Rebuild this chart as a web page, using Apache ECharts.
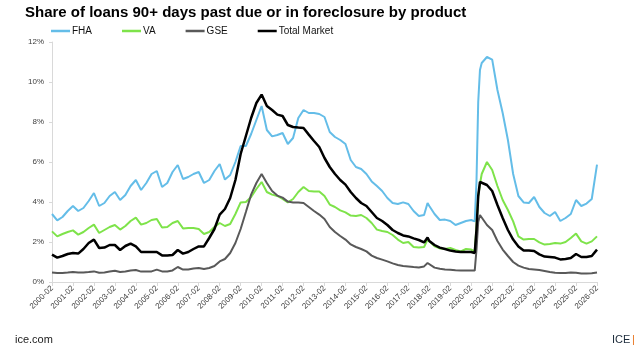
<!DOCTYPE html>
<html>
<head>
<meta charset="utf-8">
<script src="https://cdn.jsdelivr.net/npm/echarts@6/dist/echarts.min.js"></script>
<style>
html,body{margin:0;padding:0;background:#fff;}
#chart{width:640px;height:355px;}
</style>
</head>
<body>
<div id="chart"></div>
<script>
const sampleMonths = [
  '2000-02','2000-05','2000-08','2000-11',
  '2001-02','2001-05','2001-08','2001-11',
  '2002-02','2002-05','2002-08','2002-11',
  '2003-02','2003-05','2003-08','2003-11',
  '2004-02','2004-05','2004-08','2004-11',
  '2005-02','2005-05','2005-08','2005-11',
  '2006-02','2006-05','2006-08','2006-11',
  '2007-02','2007-05','2007-08','2007-11',
  '2008-02','2008-05','2008-08','2008-11',
  '2009-02','2009-05','2009-08','2009-11',
  '2010-02','2010-05','2010-08','2010-11',
  '2011-02','2011-05','2011-08','2011-11',
  '2012-02','2012-05','2012-08','2012-11',
  '2013-02','2013-05','2013-08','2013-11',
  '2014-02','2014-05','2014-08','2014-11',
  '2015-02','2015-05','2015-08','2015-11',
  '2016-02','2016-05','2016-08','2016-11',
  '2017-02','2017-05','2017-08','2017-11',
  '2018-01','2018-02','2018-05','2018-08','2018-11',
  '2019-02','2019-05','2019-08','2019-11',
  '2020-02','2020-04','2020-05','2020-06','2020-07','2020-08','2020-11',
  '2021-02','2021-05','2021-08','2021-11',
  '2022-02','2022-05','2022-08','2022-11',
  '2023-02','2023-05','2023-08','2023-11',
  '2024-02','2024-05','2024-08','2024-11',
  '2025-02','2025-05','2025-08','2025-11',
  '2026-02'
];

const fha = [
  3.40,3.08,3.25,3.55,
  3.80,3.55,3.70,4.05,
  4.45,3.80,3.95,4.30,
  4.50,4.10,4.35,4.80,
  5.10,4.60,4.95,5.40,
  5.55,4.75,4.95,5.50,
  5.85,5.15,5.25,5.40,
  5.50,4.95,5.10,5.55,
  5.90,5.12,5.35,6.00,
  6.80,6.80,7.40,8.10,
  8.80,7.60,7.28,7.35,
  7.45,6.90,7.20,8.20,
  8.60,8.45,8.45,8.40,
  8.25,7.50,7.25,7.10,
  6.90,6.10,5.75,5.65,
  5.40,5.03,4.80,4.55,
  4.20,3.95,3.90,3.98,
  3.90,3.55,3.30,3.35,
  3.95,3.80,3.40,3.10,3.12,
  3.05,2.85,2.95,3.05,
  3.10,3.03,5.00,9.00,10.60,10.95,11.25,
  11.12,9.60,8.45,7.10,
  5.40,4.30,3.98,3.95,
  4.25,3.75,3.45,3.30,
  3.50,3.05,3.20,3.40,
  4.10,3.80,3.92,4.15,
  5.87
];

const va = [
  2.53,2.28,2.40,2.50,
  2.58,2.37,2.50,2.70,
  2.87,2.45,2.60,2.75,
  2.85,2.62,2.80,3.05,
  3.22,2.87,2.95,3.10,
  3.15,2.72,2.75,2.95,
  3.05,2.68,2.70,2.70,
  2.65,2.40,2.50,2.75,
  2.95,2.80,2.90,3.40,
  3.98,4.00,4.25,4.65,
  5.00,4.50,4.37,4.30,
  4.15,3.98,4.15,4.50,
  4.75,4.55,4.53,4.53,
  4.30,3.87,3.75,3.58,
  3.48,3.32,3.30,3.35,
  3.20,2.95,2.62,2.55,
  2.50,2.35,2.12,1.95,
  2.00,1.75,1.72,1.75,
  2.12,2.05,1.78,1.68,1.65,
  1.70,1.60,1.53,1.65,
  1.62,1.53,2.80,4.30,4.90,5.40,6.00,
  5.60,4.80,4.10,3.60,
  3.03,2.28,2.12,2.15,
  2.15,1.98,1.87,1.90,
  1.95,1.92,2.00,2.20,
  2.42,2.03,1.92,2.03,
  2.28
];

const gse = [
  0.48,0.45,0.45,0.47,
  0.50,0.47,0.48,0.50,
  0.53,0.46,0.48,0.52,
  0.56,0.50,0.52,0.57,
  0.60,0.52,0.52,0.53,
  0.62,0.53,0.53,0.58,
  0.75,0.62,0.63,0.68,
  0.70,0.65,0.70,0.80,
  1.03,1.15,1.45,1.95,
  2.65,3.50,4.37,4.95,
  5.40,4.95,4.55,4.32,
  4.22,4.02,3.98,3.98,
  3.95,3.75,3.55,3.37,
  3.15,2.75,2.50,2.30,
  2.12,1.88,1.75,1.65,
  1.53,1.32,1.20,1.12,
  1.03,0.93,0.85,0.80,
  0.78,0.75,0.73,0.78,
  0.95,0.90,0.72,0.66,0.63,
  0.61,0.59,0.58,0.58,
  0.58,0.57,1.60,3.00,3.35,3.25,2.85,
  2.60,2.05,1.62,1.30,
  1.00,0.82,0.72,0.65,
  0.63,0.60,0.55,0.50,
  0.46,0.45,0.45,0.48,
  0.46,0.42,0.42,0.44,
  0.48
];

const totalMarket = [
  1.37,1.22,1.30,1.40,
  1.45,1.42,1.65,1.95,
  2.12,1.70,1.72,1.85,
  1.85,1.60,1.80,1.92,
  1.78,1.50,1.50,1.50,
  1.50,1.33,1.33,1.35,
  1.60,1.42,1.50,1.65,
  1.78,1.78,2.20,2.65,
  3.37,3.65,4.20,5.10,
  6.40,7.30,8.20,8.95,
  9.37,8.80,8.60,8.37,
  8.30,7.85,7.75,7.72,
  7.70,7.37,7.05,6.75,
  6.20,5.75,5.40,5.10,
  4.87,4.50,4.20,3.95,
  3.80,3.50,3.20,3.05,
  2.85,2.60,2.45,2.33,
  2.28,2.18,2.10,1.98,
  2.22,2.05,1.85,1.72,1.65,
  1.57,1.53,1.50,1.50,
  1.50,1.45,2.60,4.30,5.00,5.05,4.85,
  4.55,3.85,3.20,2.60,
  2.12,1.78,1.58,1.58,
  1.55,1.38,1.27,1.25,
  1.22,1.13,1.15,1.20,
  1.40,1.25,1.25,1.30,
  1.62
];

const seriesNames = ['FHA', 'VA', 'GSE', 'Total Market'];
const seriesValues = [fha, va, gse, totalMarket];
const seriesColors = ['#64BDE8', '#7EE34A', '#595959', '#000000'];
const seriesWidths = [2, 2, 2, 2.5];

// Monthly category axis 2000-02 .. 2026-02
const categories = [];
for (let y = 2000, m = 2; y < 2026 || (y === 2026 && m <= 2); ) {
  categories.push(y + '-' + (m < 10 ? '0' + m : m));
  m++; if (m > 12) { m = 1; y++; }
}

const yTicks = [0, 2, 4, 6, 8, 10, 12];

const chart = echarts.init(document.getElementById('chart'), null, {renderer: 'canvas'});
chart.setOption({
  animation: false,
  backgroundColor: '#ffffff',
  title: {
    text: 'Share of loans 90+ days past due or in foreclosure by product',
    left: 25, top: 5, padding: 0,
    textStyle: {fontFamily: 'Liberation Sans, Arial, sans-serif', fontSize: 15, fontWeight: 'bold', color: '#000'}
  },
  legend: {
    left: 51, top: 26, padding: 0,
    itemWidth: 19, itemHeight: 2.5, itemGap: 30,
    icon: 'rect',
    textStyle: {fontFamily: 'Liberation Sans, Arial, sans-serif', fontSize: 10, color: '#111', padding: [0, 0, 0, -3]},
    data: seriesNames
  },
  grid: {left: 52, right: 43, top: 42, bottom: 73, containLabel: false},
  xAxis: {
    type: 'category',
    data: categories,
    boundaryGap: false,
    axisLine: {lineStyle: {color: '#d9d9d9', width: 1}},
    axisTick: {show: true, interval: 11, length: 4, lineStyle: {color: '#d9d9d9'}},
    axisLabel: {
      interval: 11, rotate: 45, fontSize: 8, margin: 5,
      fontFamily: 'Liberation Sans, Arial, sans-serif', color: '#404040'
    },
    splitLine: {show: false}
  },
  yAxis: {
    type: 'value',
    min: yTicks[0], max: yTicks[yTicks.length - 1], interval: 2,
    axisLine: {show: true, lineStyle: {color: '#d9d9d9', width: 1}},
    axisTick: {show: true, length: 3, lineStyle: {color: '#d9d9d9'}},
    axisLabel: {
      formatter: '{value}%', fontSize: 8, margin: 8,
      fontFamily: 'Liberation Sans, Arial, sans-serif', color: '#404040'
    },
    splitLine: {show: false}
  },
  series: seriesNames.map((name, k) => ({
    name: name,
    type: 'line',
    symbol: 'none',
    smooth: false,
    color: seriesColors[k],
    lineStyle: {color: seriesColors[k], width: seriesWidths[k]},
    data: sampleMonths.map((m, i) => [m, seriesValues[k][i]])
  })),
  graphic: [
    {type: 'text', left: 15, top: 334,
     style: {text: 'ice.com', fontSize: 11, fontFamily: 'Liberation Sans, Arial, sans-serif', fill: '#1a1a1a'}},
    {type: 'text', left: 612, top: 334,
     style: {text: 'ICE', fontSize: 11, fontFamily: 'Liberation Sans, Arial, sans-serif', fill: '#1b2a3a'}},
    {type: 'text', left: 632, top: 334,
     style: {text: '|', fontSize: 11, fontFamily: 'Liberation Sans, Arial, sans-serif', fill: '#e8731c'}}
  ]
});
</script>
</body>
</html>
